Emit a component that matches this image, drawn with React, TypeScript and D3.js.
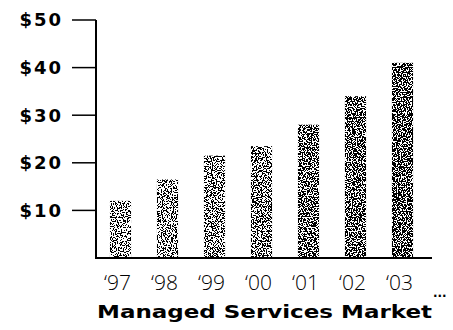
import React from "react";
import * as d3 from "d3";

const years = ["‘97", "‘98", "‘99", "‘00", "‘01", "‘02", "‘03"];
const market = [12, 16.5, 21.5, 23.5, 28, 34, 41];
const yTicks = [10, 20, 30, 40, 50];
const title = "Managed Services Market";

const W = 453;
const H = 330;
const axisX = 96;
const baseY = 258;

export default function App() {
  const x = d3
    .scaleBand<string>()
    .domain(years)
    .range([97, 426])
    .paddingInner(0.55)
    .paddingOuter(0.275);
  const y = d3.scaleLinear().domain([0, 50]).range([baseY, 20]);

  // stipple density grows a little from the first bar to the last
  const offsets = years.map((_, i) => -5.9 + i * 0.12);

  return (
    <svg
      width={W}
      height={H}
      style={{ position: "absolute", left: 0, top: 0, background: "#fff" }}
    >
      <defs>
        {years.map((_, i) => (
          <filter
            key={i}
            id={`grain${i}`}
            x="0"
            y="0"
            width="1"
            height="1"
            filterUnits="objectBoundingBox"
          >
            <feTurbulence
              type="fractalNoise"
              baseFrequency="0.8"
              numOctaves="1"
              seed={3 + i}
              result="noise"
            />
            <feColorMatrix
              in="noise"
              type="matrix"
              values={`0 0 0 0 0  0 0 0 0 0  0 0 0 0 0  12 0 0 0 ${offsets[i]}`}
              result="th"
            />
            <feComponentTransfer in="th" result="bin">
              <feFuncA type="discrete" tableValues="0 1" />
            </feComponentTransfer>
            <feComposite in="bin" in2="SourceAlpha" operator="in" />
          </filter>
        ))}
      </defs>

      {/* bars */}
      {market.map((v, i) => (
        <rect
          key={years[i]}
          x={x(years[i])}
          y={y(v)}
          width={x.bandwidth()}
          height={baseY - y(v)}
          fill="#000"
          filter={`url(#grain${i})`}
        />
      ))}

      {/* axes */}
      <line x1={axisX} x2={axisX} y1={y(50)} y2={baseY + 1} stroke="#000" strokeWidth={2} />
      <line x1={axisX - 1} x2={432} y1={baseY} y2={baseY} stroke="#000" strokeWidth={2} />

      {yTicks.map((t) => (
        <g key={t}>
          <line x1={72} x2={axisX} y1={y(t)} y2={y(t)} stroke="#000" strokeWidth={1.5} />
          <text
            x={63}
            y={y(t)}
            dy="0.36em"
            textAnchor="end"
            fontFamily="DejaVu Sans, sans-serif"
            fontWeight="bold"
            fontSize={18}
            letterSpacing={2}
            fill="#000"
          >
            {`$${t}`}
          </text>
        </g>
      ))}

      {years.map((yr) => (
        <text
          key={yr}
          x={(x(yr) ?? 0) + x.bandwidth() / 2 - 3}
          y={290}
          textAnchor="middle"
          fontFamily="'Open Sans', sans-serif"
          fontWeight={300}
          fontSize={21}
          fill="#000"
        >
          {yr}
        </text>
      ))}

      <text
        x={97}
        y={318}
        fontFamily="DejaVu Sans, sans-serif"
        fontWeight="bold"
        fontSize={18}
        textLength={335}
        lengthAdjust="spacingAndGlyphs"
        fill="#000"
      >
        {title}
      </text>
      <text x={433} y={300} fontFamily="DejaVu Sans, sans-serif" fontWeight="bold" fontSize={12} fill="#000">
        ···
      </text>
    </svg>
  );
}
